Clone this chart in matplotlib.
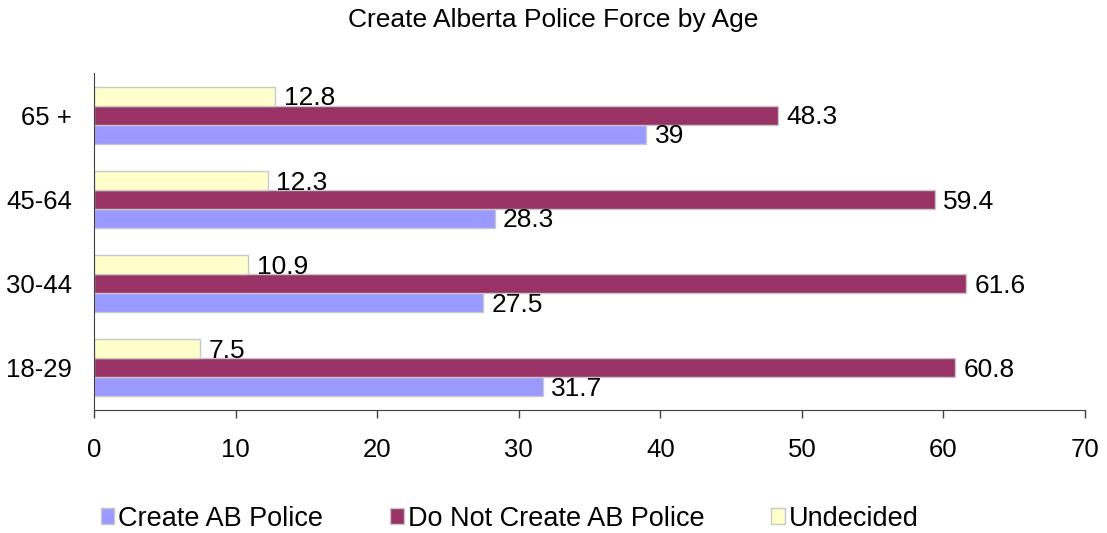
import numpy as np
import matplotlib.pyplot as plt

plt.rcParams['font.family'] = ['Liberation Sans', 'DejaVu Sans']

ages = ['18-29', '30-44', '45-64', '65 +']
create = [31.7, 27.5, 28.3, 39]
do_not = [60.8, 61.6, 59.4, 48.3]
undecided = [7.5, 10.9, 12.3, 12.8]

series = [
    ('Create AB Police', create, '#9999ff'),
    ('Do Not Create AB Police', do_not, '#993366'),
    ('Undecided', undecided, '#ffffcc'),
]

fig = plt.figure(figsize=(11.07, 5.33), dpi=100)
ax = fig.add_axes([0.0849, 0.2308, 0.8953, 0.632])

y = np.arange(len(ages))
h = 0.225
for i, (name, vals, col) in enumerate(series):
    pos = y + (i - 1) * h
    bars = ax.barh(pos, vals, height=h, color=col, edgecolor='#c8c8c8',
                   linewidth=1, label=name)
    for b, v in zip(bars, vals):
        ax.annotate('%g' % v, (b.get_width(), b.get_y() + b.get_height() / 2),
                    xytext=(6, -1.5), textcoords='offset points',
                    va='center', ha='left', fontsize=19)

ax.set_xlim(0, 70)
ax.set_ylim(-0.5, len(ages) - 0.5)
ax.set_xticks(range(0, 71, 10))
ax.set_yticks(y)
ax.set_yticklabels(ages)
ax.tick_params(axis='x', direction='out', length=6, width=1, pad=14,
               labelsize=18.5, color='#404040')
ax.tick_params(axis='y', length=0, pad=16, labelsize=18.5)
for s in ['top', 'right']:
    ax.spines[s].set_visible(False)
for s in ['left', 'bottom']:
    ax.spines[s].set_color('#404040')

fig.text(0.5, 0.962, 'Create Alberta Police Force by Age', ha='center',
         va='center', fontsize=19)

fig.legend(loc='center', bbox_to_anchor=(0.4603, 0.027), ncol=3, frameon=False,
           fontsize=19.5, handlelength=0.5, handleheight=0.5, handletextpad=0.15,
           columnspacing=2.47)

fig.savefig('out.png', dpi=100)
